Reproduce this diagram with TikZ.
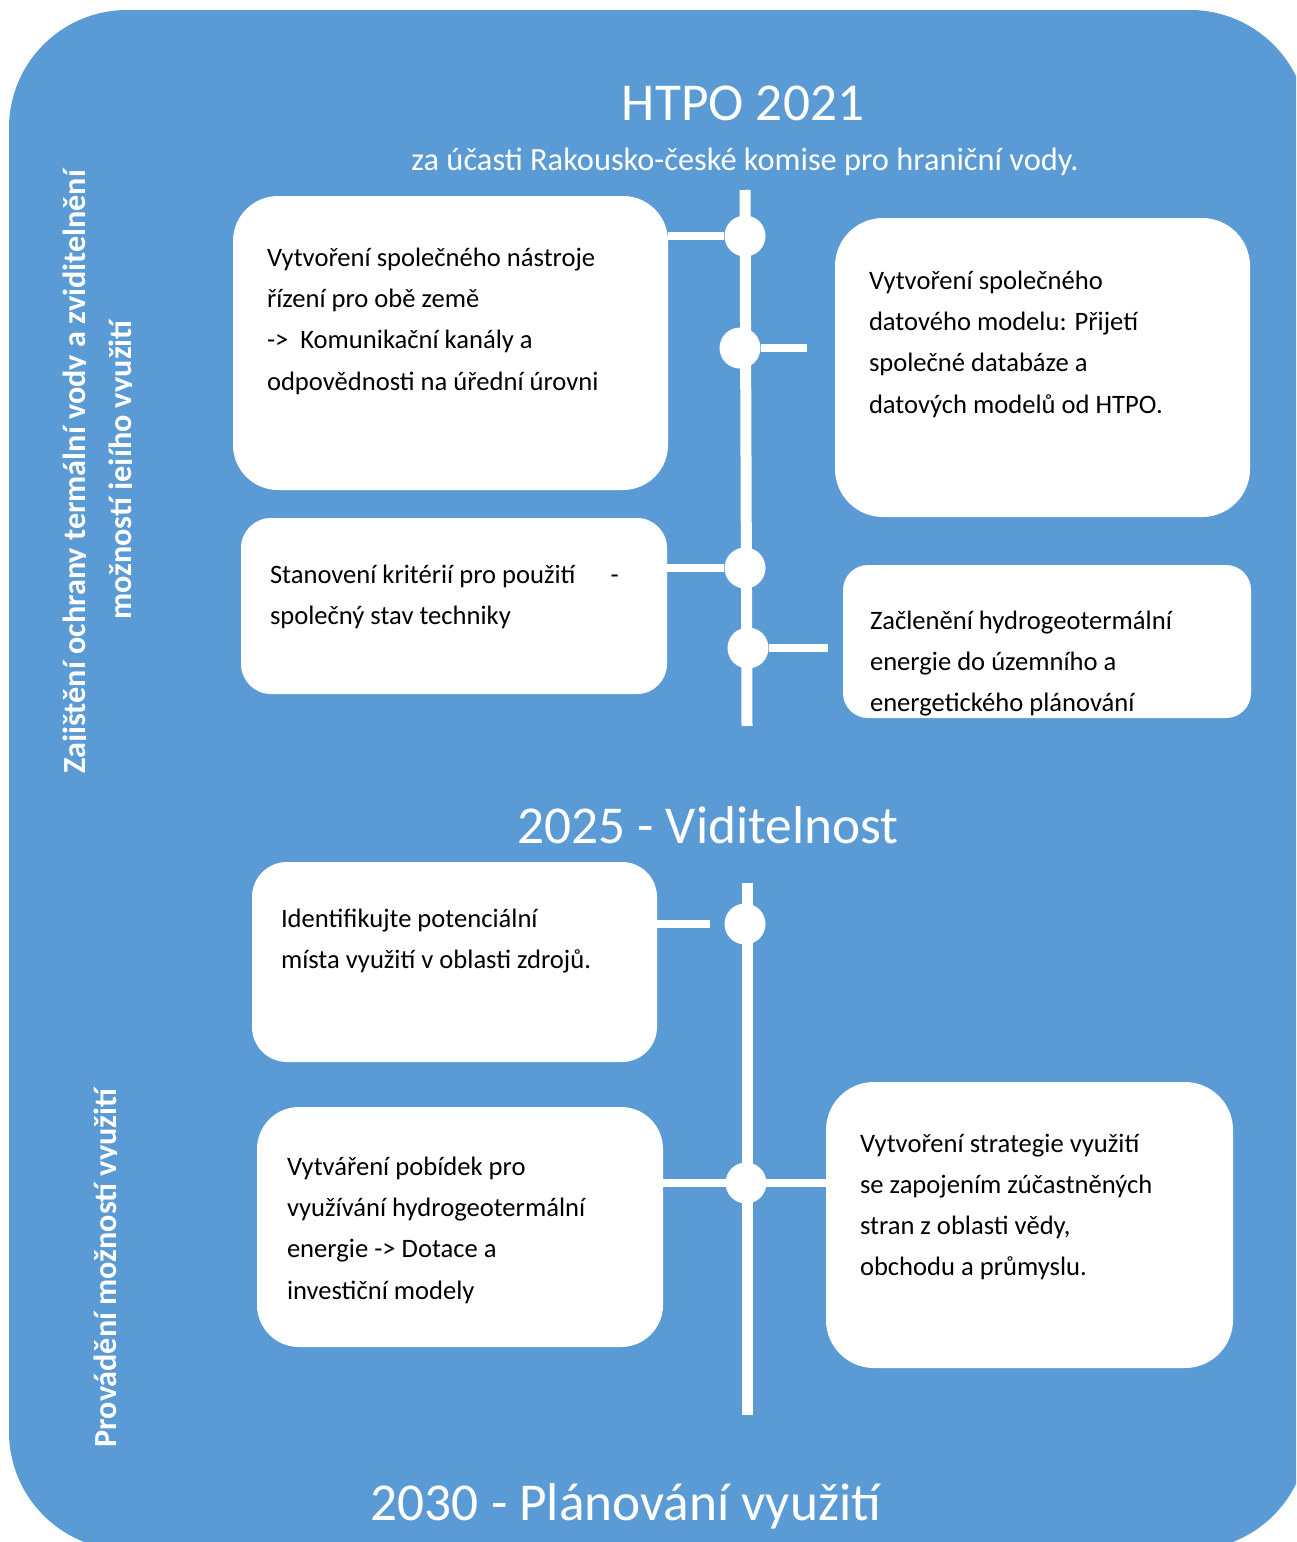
\documentclass[tikz,border=0pt]{standalone}
\usepackage{fontspec}
\setmainfont{Carlito}
\usepackage{xcolor}
\usetikzlibrary{positioning,calc}
\definecolor{panelblue}{HTML}{5B9BD5}
\tikzset{%
	card/.style      = {fill=white, rectangle, inner sep=0pt}, % text box
	note/.style      = {align=left, inner sep=0pt, text=black, font=\fontsize{26.6}{41.2}\selectfont}, % box text
	dot/.style       = {circle, fill=white, inner sep=0pt, minimum size=41pt}, % milestone
	spine/.style     = {draw=white, line width=11pt}, % time line
	link/.style      = {draw=white, line width=8.5pt}, % branch
	headline/.style  = {text=white, anchor=base, font=\fontsize{53.3}{60}\selectfont},
	subline/.style   = {text=white, anchor=base, font=\fontsize{32.4}{38}\selectfont},
	sidetitle/.style = {text=white, rotate=90, anchor=base, inner sep=0pt, font=\bfseries\fontsize{32.2}{38}\selectfont},
}

\begin{document}
\begin{tikzpicture}[x=1pt,y=-1pt]
	\clip (0,0) rectangle (1296,1542);
	\fill[white] (0,0) rectangle (1296,1542);
	\fill[panelblue, rounded corners=118pt] (9,10) rectangle (1308,1550);

	% headings
	\node[headline] (head) at (743,120) {HTPO 2021};
	\node[subline] (sub) at (745,170) {za účasti Rakousko-české komise pro hraniční vody.};
	\node[headline] (mid) at (708,843) {2025 - Viditelnost};
	\node[headline] (foot) at (626,1520) {2030 - Plánování využití};

	% side titles
	\begin{scope}
		\clip (0,0) rectangle (85,1542);
		\node[sidetitle] (side1) at (85,472) {Zajištění ochrany termální vody a zviditelnění};
	\end{scope}
	\begin{scope}
		\clip (0,0) rectangle (131,1542);
		\node[sidetitle] (side2) at (131,470) {možností jejího využití};
	\end{scope}
	\begin{scope}
		\clip (0,0) rectangle (116,1542);
		\node[sidetitle] (side3) at (116,1268) {Provádění možností využití};
	\end{scope}

	% boxes
	\node[card, rounded corners=45pt, minimum width=435pt, minimum height=294pt] (b1) at (450.5,343) {};
	\node[card, rounded corners=48pt, minimum width=415pt, minimum height=299pt] (b2) at (1042.5,367.5) {};
	\node[card, rounded corners=30pt, minimum width=426pt, minimum height=176pt] (b3) at (454,606) {};
	\node[card, rounded corners=25pt, minimum width=408pt, minimum height=153pt] (b4) at (1047,641.5) {};
	\node[card, rounded corners=35pt, minimum width=405pt, minimum height=200pt] (b5) at (454.5,962) {};
	\node[card, rounded corners=42pt, minimum width=406pt, minimum height=240pt] (b6) at (460,1227) {};
	\node[card, rounded corners=48pt, minimum width=407pt, minimum height=286pt] (b7) at (1029.5,1225) {};

	\node[note, below right=52pt and 34pt of b1.north west] (t1) {Vytvoření společného nástroje\\řízení pro obě země\\->\hspace{0.45em}Komunikační kanály a\\odpovědnosti na úřední úrovni};
	\node[note, below right=53pt and 34pt of b2.north west] (t2) {Vytvoření společného\\datového modelu: Přijetí\\společné databáze a\\datových modelů od HTPO.};
	\node[note, below right=47pt and 29pt of b3.north west] (t3) {Stanovení kritérií pro použití\hspace*{35pt}-\\společný stav techniky};
	\node[note, below right=46pt and 27pt of b4.north west] (t4) {Začlenění hydrogeotermální\\energie do územního a\\energetického plánování};
	\node[note, below right=47pt and 29pt of b5.north west] (t5) {Identifikujte potenciální\\místa využití v oblasti zdrojů.};
	\node[note, below right=50pt and 30pt of b6.north west] (t6) {Vytváření pobídek pro\\využívání hydrogeotermální\\energie -> Dotace a\\investiční modely};
	\node[note, below right=52pt and 34pt of b7.north west] (t7) {Vytvoření strategie využití\\se zapojením zúčastněných\\stran z oblasti vědy,\\obchodu a průmyslu.};

	% time lines
	\coordinate (top1) at (745,190);
	\coordinate (end1) at (747,726);
	\coordinate (top2) at (747,883);
	\coordinate (end2) at (747,1415);
	\draw[spine] (top1) -- (end1);
	\draw[spine] (top2) -- (end2);

	\node[dot] (c1) at (745,236) {};
	\node[dot] (c2) at (740,348) {};
	\node[dot] (c3) at (745,568) {};
	\node[dot] (c4) at (748,648) {};
	\node[dot] (c5) at (745,924) {};
	\node[dot] (c6) at (746,1183) {};

	\coordinate (k2) at (807,348);
	\coordinate (k4) at (828,648);
	\coordinate (k5) at (710,924);
	\draw[link] (c1) -- (c1 -| b1.east);
	\draw[link] (c2) -- (k2);
	\draw[link] (c3) -- (c3 -| b3.east);
	\draw[link] (c4) -- (k4);
	\draw[link] (b5.east |- k5) -- (k5);
	\draw[link] (c6 -| b6.east) -- (c6 -| b7.west);
\end{tikzpicture}
\end{document}
